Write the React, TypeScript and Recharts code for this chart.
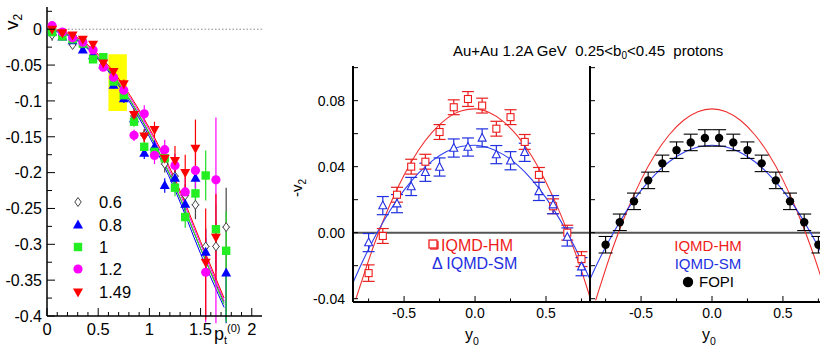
import React from 'react';
import { ComposedChart, Scatter, Line, XAxis, YAxis, ErrorBar, ReferenceArea, ReferenceLine } from 'recharts';

const FONT = "'Liberation Sans', Arial, Helvetica, sans-serif";

// ---------------- Left panel: v2 vs pt(0) ----------------
const s06 = [
  { x: 0.05, y: -0.008, e: 0.008, ex: 0.04 }, { x: 0.15, y: -0.009, e: 0.004, ex: 0.04 }, { x: 0.25, y: -0.022, e: 0.004, ex: 0.04 },
  { x: 0.35, y: -0.024, e: 0.004, ex: 0.04 }, { x: 0.45, y: -0.036, e: 0.005, ex: 0.04 }, { x: 0.55, y: -0.049, e: 0.005, ex: 0.04 },
  { x: 0.65, y: -0.069, e: 0.006, ex: 0.04 }, { x: 0.75, y: -0.088, e: 0.007, ex: 0.04 }, { x: 0.85, y: -0.121, e: 0.008, ex: 0.04 },
  { x: 0.95, y: -0.148, e: 0.009, ex: 0.04 }, { x: 1.05, y: -0.166, e: 0.01, ex: 0.04 }, { x: 1.15, y: -0.188, e: 0.012, ex: 0.04 },
  { x: 1.25, y: -0.205, e: 0.014, ex: 0.04 }, { x: 1.35, y: -0.232, e: 0.016, ex: 0.04 }, { x: 1.45, y: -0.245, e: 0.02, ex: 0.04 },
  { x: 1.55, y: -0.303, e: 0.025, ex: 0.04 }, { x: 1.65, y: -0.303, e: 0.035, ex: 0.04 }, { x: 1.75, y: -0.276, e: [0.13, 0.055], ex: 0.04 },
];
const s08 = [
  { x: 0.05, y: -0.004, e: 0.003 }, { x: 0.15, y: -0.011, e: 0.003 }, { x: 0.25, y: -0.016, e: 0.003 },
  { x: 0.35, y: -0.029, e: 0.004 }, { x: 0.45, y: -0.037, e: 0.004 }, { x: 0.55, y: -0.05, e: 0.005 },
  { x: 0.65, y: -0.078, e: 0.005 }, { x: 0.75, y: -0.097, e: 0.006 }, { x: 0.85, y: -0.125, e: 0.007 },
  { x: 0.95, y: -0.173, e: 0.008 }, { x: 1.05, y: -0.164, e: 0.009 }, { x: 1.15, y: -0.218, e: 0.01 },
  { x: 1.25, y: -0.208, e: 0.012 }, { x: 1.35, y: -0.244, e: 0.014 }, { x: 1.45, y: -0.208, e: 0.016 },
  { x: 1.55, y: -0.311, e: 0.02 }, { x: 1.75, y: -0.34, e: [0.07, 0.0] },
];
const s10 = [
  { x: 0.05, y: -0.004, e: 0.003 }, { x: 0.15, y: -0.01, e: 0.003 }, { x: 0.25, y: -0.014, e: 0.003 },
  { x: 0.35, y: -0.02, e: 0.004 }, { x: 0.45, y: -0.042, e: 0.004 }, { x: 0.55, y: -0.039, e: 0.005 },
  { x: 0.65, y: -0.073, e: 0.005 }, { x: 0.75, y: -0.092, e: 0.006 }, { x: 0.85, y: -0.129, e: 0.007 },
  { x: 0.95, y: -0.164, e: 0.008 }, { x: 1.05, y: -0.171, e: 0.009 }, { x: 1.15, y: -0.18, e: 0.01 },
  { x: 1.25, y: -0.221, e: 0.012 }, { x: 1.35, y: -0.262, e: 0.015 }, { x: 1.45, y: -0.229, e: 0.018 },
  { x: 1.55, y: -0.204, e: 0.035 }, { x: 1.65, y: -0.279, e: 0.035 }, { x: 1.75, y: -0.309, e: [0.1, 0.055] },
];
const s12 = [
  { x: 0.05, y: 0.005, e: 0.006 }, { x: 0.15, y: -0.004, e: 0.004 }, { x: 0.25, y: -0.012, e: 0.004 },
  { x: 0.35, y: -0.018, e: 0.004 }, { x: 0.45, y: -0.029, e: 0.005 }, { x: 0.55, y: -0.053, e: 0.005 },
  { x: 0.65, y: -0.067, e: 0.006 }, { x: 0.75, y: -0.085, e: 0.007 }, { x: 0.85, y: -0.148, e: 0.008 },
  { x: 0.95, y: -0.118, e: 0.012 }, { x: 1.05, y: -0.176, e: 0.012 }, { x: 1.15, y: -0.168, e: 0.014 },
  { x: 1.25, y: -0.19, e: 0.016 }, { x: 1.35, y: -0.227, e: 0.02 }, { x: 1.45, y: -0.197, e: 0.025 },
  { x: 1.55, y: -0.339, e: [0.07, 0.06] }, { x: 1.65, y: -0.21, e: [0.2, 0.087] },
];
const s149 = [
  { x: 0.05, y: 0.0, e: 0.004 }, { x: 0.15, y: -0.005, e: 0.003 }, { x: 0.25, y: -0.008, e: 0.003 },
  { x: 0.35, y: -0.014, e: 0.004 }, { x: 0.45, y: -0.021, e: 0.004 }, { x: 0.55, y: -0.047, e: 0.005 },
  { x: 0.65, y: -0.059, e: 0.005 }, { x: 0.75, y: -0.076, e: 0.006 }, { x: 0.85, y: -0.119, e: 0.008 },
  { x: 0.95, y: -0.149, e: 0.009 }, { x: 1.05, y: -0.14, e: 0.011 }, { x: 1.15, y: -0.18, e: 0.013 },
  { x: 1.25, y: -0.183, e: 0.02 }, { x: 1.35, y: -0.2, e: 0.025 }, { x: 1.45, y: -0.166, e: 0.04 },
  { x: 1.55, y: -0.325, e: [0.08, 0.075] }, { x: 1.65, y: -0.29, e: 0.06 },
];

const fitX = [0.05, 0.25, 0.5, 0.75, 1.0, 1.25, 1.5, 1.73];
const fit06 = [-0.001, -0.011, -0.04, -0.086, -0.146, -0.219, -0.306, -0.381];
const fit08 = [-0.002, -0.012, -0.042, -0.089, -0.15, -0.224, -0.313, -0.388];
const fit10 = [-0.001, -0.01, -0.039, -0.085, -0.145, -0.218, -0.306, -0.384];
const fit12 = [-0.001, -0.009, -0.037, -0.082, -0.141, -0.213, -0.3, -0.379];
const fit149 = [0.0, -0.008, -0.035, -0.079, -0.138, -0.209, -0.296, -0.375];

const leftXTicks = [0, 0.1, 0.2, 0.3, 0.4, 0.5, 0.6, 0.7, 0.8, 0.9, 1, 1.1, 1.2, 1.3, 1.4, 1.5, 1.6, 1.7, 1.8, 1.9, 2];
const leftXMajors = [0, 0.5, 1, 1.5, 2];
const leftYTicks = [-0.4, -0.375, -0.35, -0.325, -0.3, -0.275, -0.25, -0.225, -0.2, -0.175, -0.15, -0.125, -0.1, -0.075, -0.05, -0.025, 0, 0.025];
const leftYMajors = [-0.4, -0.35, -0.3, -0.25, -0.2, -0.15, -0.1, -0.05, 0];

// ---------------- Middle panel: IQMD ----------------
const hmData = [
  { x: -0.75, y: -0.0245, e: 0.005 }, { x: -0.65, y: -0.002, e: 0.0045 }, { x: -0.55, y: 0.023, e: 0.0045 },
  { x: -0.45, y: 0.040, e: 0.0045 }, { x: -0.35, y: 0.043, e: 0.0045 }, { x: -0.25, y: 0.061, e: 0.0045 },
  { x: -0.15, y: 0.076, e: 0.0045 }, { x: -0.05, y: 0.081, e: 0.0045 }, { x: 0.05, y: 0.077, e: 0.0045 },
  { x: 0.15, y: 0.063, e: 0.0045 }, { x: 0.25, y: 0.070, e: 0.0045 }, { x: 0.35, y: 0.055, e: 0.0045 },
  { x: 0.45, y: 0.035, e: 0.0045 }, { x: 0.55, y: 0.016, e: 0.0045 }, { x: 0.65, y: 0.0, e: 0.0045 },
  { x: 0.75, y: -0.016, e: 0.0045 },
];
const smData = [
  { x: -0.75, y: -0.006, e: 0.0055 }, { x: -0.65, y: 0.0164, e: 0.0055 }, { x: -0.55, y: 0.0176, e: 0.0055 },
  { x: -0.45, y: 0.028, e: 0.0055 }, { x: -0.35, y: 0.0366, e: 0.0055 }, { x: -0.25, y: 0.0398, e: 0.0055 },
  { x: -0.15, y: 0.0513, e: 0.0055 }, { x: -0.05, y: 0.0519, e: 0.0055 }, { x: 0.05, y: 0.0574, e: 0.0055 },
  { x: 0.15, y: 0.0473, e: 0.0055 }, { x: 0.25, y: 0.0436, e: 0.0055 }, { x: 0.35, y: 0.0487, e: 0.0055 },
  { x: 0.45, y: 0.025, e: 0.0055 }, { x: 0.55, y: 0.017, e: 0.0055 }, { x: 0.65, y: -0.0026, e: 0.0055 },
  { x: 0.75, y: -0.0206, e: 0.0055 },
];
const midHmX = [-0.84, -0.7, -0.6, -0.5, -0.4, -0.3, -0.2, -0.1, 0, 0.1, 0.2, 0.3, 0.4, 0.5, 0.6, 0.7, 0.8, 0.81];
const midHmY = [-0.0403, -0.0046, 0.0169, 0.035, 0.0498, 0.0611, 0.0691, 0.0737, 0.075, 0.0728, 0.0673, 0.0585, 0.0463, 0.0306, 0.0117, -0.0107, -0.0364, -0.0392];
const midSmX = [-0.86, -0.8, -0.7, -0.6, -0.5, -0.4, -0.3, -0.2, -0.1, 0, 0.1, 0.2, 0.3, 0.4, 0.5, 0.6, 0.7, 0.81];
const midSmY = [-0.0303, -0.0188, -0.0016, 0.0133, 0.0258, 0.0359, 0.0437, 0.0492, 0.0522, 0.053, 0.0513, 0.0473, 0.0409, 0.0322, 0.0211, 0.0076, -0.0082, -0.0283];

// ---------------- Right panel: FOPI ----------------
const fopiData = [
  { x: -0.75, y: -0.0073, e: 0.005 }, { x: -0.65, y: 0.0063, e: 0.005 }, { x: -0.55, y: 0.019, e: 0.005 },
  { x: -0.45, y: 0.0317, e: 0.005 }, { x: -0.35, y: 0.042, e: 0.005 }, { x: -0.25, y: 0.05, e: 0.005 },
  { x: -0.15, y: 0.0547, e: 0.005 }, { x: -0.05, y: 0.0574, e: 0.005 }, { x: 0.05, y: 0.0574, e: 0.005 },
  { x: 0.15, y: 0.0547, e: 0.005 }, { x: 0.25, y: 0.05, e: 0.005 }, { x: 0.35, y: 0.042, e: 0.005 },
  { x: 0.45, y: 0.0317, e: 0.005 }, { x: 0.55, y: 0.019, e: 0.005 }, { x: 0.65, y: 0.0063, e: 0.005 },
  { x: 0.75, y: -0.0073, e: 0.005 },
];
const rHmX = [-0.82, -0.7, -0.6, -0.5, -0.4, -0.3, -0.2, -0.1, 0, 0.1, 0.2, 0.3, 0.4, 0.5, 0.6, 0.7, 0.8];
const rHmY = [-0.041, -0.0094, 0.013, 0.032, 0.0475, 0.0595, 0.0681, 0.0733, 0.075, 0.0733, 0.0681, 0.0595, 0.0475, 0.032, 0.013, -0.0094, -0.0352];
const rSmX = [-0.86, -0.8, -0.7, -0.6, -0.5, -0.4, -0.3, -0.2, -0.1, 0, 0.1, 0.2, 0.3, 0.4, 0.5, 0.6, 0.7, 0.8, 0.86];
const rSmY = [-0.0282, -0.0172, -0.0008, 0.0135, 0.0256, 0.0354, 0.0431, 0.0486, 0.0519, 0.053, 0.0519, 0.0486, 0.0431, 0.0354, 0.0256, 0.0135, -0.0008, -0.0172, -0.0282];

const midYTicks = [-0.04, -0.02, 0, 0.02, 0.04, 0.06, 0.08, 0.1];
const midYMajors = [-0.04, 0, 0.04, 0.08];
const midXTicks = [-0.75, -0.5, -0.25, 0, 0.25, 0.5, 0.75];
const midXMajors = [-0.5, 0, 0.5];

const toPts = (xs: number[], ys: number[]) => xs.map((x, i) => ({ x, y: ys[i] }));

// ---------------- ticks ----------------
type TickCfg = {
  side: 'left' | 'right' | 'top' | 'bottom';
  majors: number[];
  majorLen: number;
  minorLen: number;
  label?: (v: number) => string;
  fontSize?: number;
  offset?: number;
  allSame?: boolean;
};
function makeTick(cfg: TickCfg) {
  return (props: any) => {
    const x = Number(props.x);
    const y = Number(props.y);
    const v = Number(props.payload?.value);
    const major = cfg.majors.some((m) => Math.abs(m - v) < 1e-6);
    const len = major || cfg.allSame ? cfg.majorLen : cfg.minorLen;
    let x2 = x;
    let y2 = y;
    if (cfg.side === 'left') x2 = x + len;
    if (cfg.side === 'right') x2 = x - len;
    if (cfg.side === 'top') y2 = y + len;
    if (cfg.side === 'bottom') y2 = y - len;
    const fs = cfg.fontSize || 14;
    const off = cfg.offset || 6;
    let lab = null;
    if (major && cfg.label) {
      if (cfg.side === 'left') {
        lab = (
          <text x={x - off} y={y} dy="0.36em" textAnchor="end" fontSize={fs} fontFamily={FONT} fill="#000">
            {cfg.label(v)}
          </text>
        );
      } else if (cfg.side === 'bottom') {
        lab = (
          <text x={x} y={y + off} textAnchor="middle" fontSize={fs} fontFamily={FONT} fill="#000">
            {cfg.label(v)}
          </text>
        );
      }
    }
    return (
      <g>
        <line x1={x} y1={y} x2={x2} y2={y2} stroke="#000" strokeWidth={1} />
        {lab}
      </g>
    );
  };
}

// ---------------- shapes ----------------
const DiamondShape = (p: any) => {
  const { cx, cy } = p;
  return <path d={`M${cx} ${cy - 4.5}L${cx + 3.2} ${cy}L${cx} ${cy + 4.5}L${cx - 3.2} ${cy}Z`} fill="#fff" stroke="#444" strokeWidth={1} />;
};
const TriUpShape = (p: any) => {
  const { cx, cy } = p;
  return <path d={`M${cx} ${cy - 5.5}L${cx + 5} ${cy + 3.5}L${cx - 5} ${cy + 3.5}Z`} fill="#0000ff" />;
};
const TriDownShape = (p: any) => {
  const { cx, cy } = p;
  return <path d={`M${cx} ${cy + 5.5}L${cx + 5} ${cy - 3.5}L${cx - 5} ${cy - 3.5}Z`} fill="#ff0000" />;
};
const SquareShape = (p: any) => {
  const { cx, cy } = p;
  return <rect x={cx - 4.2} y={cy - 4.2} width={8.4} height={8.4} fill="#22ee22" />;
};
const CircleShape = (p: any) => {
  const { cx, cy } = p;
  return <circle cx={cx} cy={cy} r={4.6} fill="#ff00ff" />;
};
const OpenSquare = (p: any) => {
  const { cx, cy } = p;
  return <rect x={cx - 3.5} y={cy - 3.5} width={7} height={7} fill="#fff" stroke="#ee1c1c" strokeWidth={1.1} />;
};
const OpenTri = (p: any) => {
  const { cx, cy } = p;
  return <path d={`M${cx} ${cy - 4.5}L${cx + 4} ${cy + 3.2}L${cx - 4} ${cy + 3.2}Z`} fill="#fff" stroke="#2430e0" strokeWidth={1.1} />;
};
const FilledDot = (p: any) => {
  const { cx, cy } = p;
  return <circle cx={cx} cy={cy} r={4.2} fill="#000" />;
};

const leftSeries = [
  { name: '0.6', data: s06, fit: fit06, color: '#444444', shape: DiamondShape },
  { name: '0.8', data: s08, fit: fit08, color: '#0000ff', shape: TriUpShape },
  { name: '1', data: s10, fit: fit10, color: '#22dd22', shape: SquareShape },
  { name: '1.2', data: s12, fit: fit12, color: '#ff00ff', shape: CircleShape },
  { name: '1.49', data: s149, fit: fit149, color: '#ff0000', shape: TriDownShape },
];

const axisStroke = { stroke: '#000', strokeWidth: 1.5 };
const axisStroke2 = { stroke: '#000', strokeWidth: 2 };

function LeftPanel() {
  const common = { tickSize: 0, tickMargin: 0, tickLine: false, interval: 0 as const, allowDataOverflow: true };
  return (
    <ComposedChart width={280} height={350} margin={{ top: 7, right: 18, bottom: 4, left: 7 }}>
      <XAxis xAxisId="b" type="number" dataKey="x" domain={[0, 2.1]} ticks={leftXTicks} height={30}
        axisLine={axisStroke} {...common}
        tick={makeTick({ side: 'bottom', majors: leftXMajors, majorLen: 8, minorLen: 4, label: (v) => String(v), fontSize: 16.5, offset: 19 })} />
      <XAxis xAxisId="t" orientation="top" type="number" dataKey="x" domain={[0, 2.1]} ticks={leftXTicks} height={0}
        axisLine={axisStroke} {...common}
        tick={makeTick({ side: 'top', majors: leftXMajors, majorLen: 8, minorLen: 4 })} />
      <YAxis yAxisId="l" type="number" dataKey="y" domain={[-0.4, 0.031]} ticks={leftYTicks} width={40}
        axisLine={axisStroke} {...common}
        tick={makeTick({ side: 'left', majors: leftYMajors, majorLen: 8, minorLen: 5, label: (v) => String(Number(v.toFixed(3))), fontSize: 16, offset: 5 })} />
      <YAxis yAxisId="r" orientation="right" type="number" dataKey="y" domain={[-0.4, 0.031]} ticks={leftYTicks} width={0}
        axisLine={axisStroke} {...common}
        tick={makeTick({ side: 'right', majors: leftYMajors, majorLen: 8, minorLen: 5 })} />
      <ReferenceArea xAxisId="b" yAxisId="l" x1={0.6} x2={0.78} y1={-0.114} y2={-0.035} fill="#ffff00" fillOpacity={1} stroke="none" />
      <ReferenceLine xAxisId="b" yAxisId="l" y={0} stroke="#888" strokeDasharray="1.5 2" strokeWidth={1} />
      {leftSeries.map((s) => (
        <Line key={'f' + s.name} xAxisId="b" yAxisId="l" data={toPts(fitX, s.fit)} dataKey="y" type="monotone"
          stroke={s.color} strokeWidth={1} dot={false} activeDot={false} isAnimationActive={false} />
      ))}
      {leftSeries.map((s) => (
        <Scatter key={'s' + s.name} xAxisId="b" yAxisId="l" data={s.data} dataKey="y" shape={s.shape} isAnimationActive={false}>
          <ErrorBar dataKey="e" direction="y" width={0} stroke={s.color} strokeWidth={1.2} />
          {s.name === '0.6' ? <ErrorBar dataKey="ex" direction="x" width={0} stroke="#666" strokeWidth={0.8} /> : null}
        </Scatter>
      ))}
    </ComposedChart>
  );
}

function framedAxes(showYLabels: boolean, xDomain: number[]) {
  const common = { tickSize: 0, tickMargin: 0, tickLine: false, interval: 0 as const, allowDataOverflow: true };
  return [
    <XAxis key="xb" xAxisId="b" type="number" dataKey="x" domain={xDomain} ticks={midXTicks} height={40}
      axisLine={axisStroke2} {...common}
      tick={makeTick({ side: 'bottom', majors: midXMajors, majorLen: 6, minorLen: 3.5, label: (v) => v.toFixed(1), fontSize: 14, offset: 16 })} />,
    <XAxis key="xt" xAxisId="t" orientation="top" type="number" dataKey="x" domain={xDomain} ticks={midXTicks} height={0}
      axisLine={axisStroke2} {...common}
      tick={makeTick({ side: 'top', majors: midXMajors, majorLen: 6, minorLen: 3.5 })} />,
    <YAxis key="yl" yAxisId="l" type="number" dataKey="y" domain={[-0.042, 0.101]} ticks={midYTicks} width={showYLabels ? 60 : 20}
      axisLine={axisStroke2} {...common}
      tick={makeTick({ side: 'left', majors: midYMajors, majorLen: 5, minorLen: 5, label: showYLabels ? (v) => v.toFixed(2) : undefined, fontSize: 14, offset: 8 })} />,
    <YAxis key="yr" yAxisId="r" orientation="right" type="number" dataKey="y" domain={[-0.042, 0.101]} ticks={midYTicks} width={0}
      axisLine={axisStroke2} {...common}
      tick={makeTick({ side: 'right', majors: midYMajors, majorLen: 5, minorLen: 5 })} />,
    <ReferenceLine key="zero" xAxisId="b" yAxisId="l" y={0} stroke="#555" strokeWidth={2} />,
  ];
}

function MiddlePanel() {
  return (
    <ComposedChart width={312} height={350} margin={{ top: 66, right: 2, bottom: 8, left: 13 }}>
      {framedAxes(true, [-0.86, 0.81])}
      <Line xAxisId="b" yAxisId="l" data={toPts(midHmX, midHmY)} dataKey="y" type="monotone" stroke="#f03030" strokeWidth={1.1}
        dot={false} activeDot={false} isAnimationActive={false} />
      <Line xAxisId="b" yAxisId="l" data={toPts(midSmX, midSmY)} dataKey="y" type="monotone" stroke="#3040f0" strokeWidth={1.1}
        dot={false} activeDot={false} isAnimationActive={false} />
      <Scatter xAxisId="b" yAxisId="l" data={hmData} dataKey="y" shape={OpenSquare} isAnimationActive={false}>
        <ErrorBar dataKey="e" direction="y" width={6} stroke="#e82020" strokeWidth={1.2} />
      </Scatter>
      <Scatter xAxisId="b" yAxisId="l" data={smData} dataKey="y" shape={OpenTri} isAnimationActive={false}>
        <ErrorBar dataKey="e" direction="y" width={6} stroke="#2030e0" strokeWidth={1.2} />
      </Scatter>
    </ComposedChart>
  );
}

function RightPanel() {
  return (
    <ComposedChart width={300} height={350} margin={{ top: 66, right: 26, bottom: 8, left: 10 }}>
      {framedAxes(false, [-0.86, 0.86])}
      <Line xAxisId="b" yAxisId="l" data={toPts(rHmX, rHmY)} dataKey="y" type="monotone" stroke="#f03030" strokeWidth={1.1}
        dot={false} activeDot={false} isAnimationActive={false} />
      <Line xAxisId="b" yAxisId="l" data={toPts(rSmX, rSmY)} dataKey="y" type="monotone" stroke="#3040f0" strokeWidth={1.1}
        dot={false} activeDot={false} isAnimationActive={false} />
      <Scatter xAxisId="b" yAxisId="l" data={fopiData} dataKey="y" shape={FilledDot} isAnimationActive={false}>
        <ErrorBar dataKey="e" direction="y" width={7} stroke="#000" strokeWidth={1.1} />
      </Scatter>
    </ComposedChart>
  );
}

function Overlay() {
  const t = { fontFamily: FONT, fill: '#000' };
  return (
    <svg width={820} height={350} style={{ position: 'absolute', left: 0, top: 0, pointerEvents: 'none' }}>
      {/* left panel labels */}
      <text transform="translate(18,30) rotate(-90)" fontSize={19} {...t}>
        v<tspan fontSize={12} dy={4}>2</tspan>
      </text>
      <text x={214} y={340} fontSize={18} {...t}>
        p<tspan fontSize={11} dy={4}>t</tspan><tspan fontSize={11} dy={-12}>(0)</tspan>
      </text>
      {/* left legend */}
      <DiamondShape cx={78} cy={202} />
      <TriUpShape cx={78} cy={225} />
      <SquareShape cx={78} cy={247} />
      <CircleShape cx={78} cy={269} />
      <TriDownShape cx={78} cy={292} />
      <text x={99} y={208} fontSize={16.5} {...t}>0.6</text>
      <text x={99} y={231} fontSize={16.5} {...t}>0.8</text>
      <text x={99} y={253} fontSize={16.5} {...t}>1</text>
      <text x={99} y={275} fontSize={16.5} {...t}>1.2</text>
      <text x={99} y={298} fontSize={16.5} {...t}>1.49</text>
      {/* title */}
      <text x={453} y={56} fontSize={15} style={{ whiteSpace: 'pre' }} {...t}>
        {'Au+Au 1.2A GeV  0.25<b'}<tspan fontSize={10} dy={3}>0</tspan><tspan dy={-3}>{'<0.45  protons'}</tspan>
      </text>
      {/* middle labels */}
      <text transform="translate(302,197) rotate(-90)" fontSize={15} {...t}>
        -v<tspan fontSize={10} dy={4}>2</tspan>
      </text>
      <text x={465} y={340} fontSize={16} {...t}>
        y<tspan fontSize={10.5} dy={5}>0</tspan>
      </text>
      <text x={702} y={340} fontSize={16} {...t}>
        y<tspan fontSize={10.5} dy={5}>0</tspan>
      </text>
      {/* middle legend */}
      <rect x={429} y={240} width={8} height={8} fill="#fff" stroke="#ee1c1c" strokeWidth={1.3} />
      <line x1={438} y1={241} x2={438} y2={249} stroke="#ee1c1c" strokeWidth={1.3} />
      <line x1={430} y1={249} x2={438} y2={249} stroke="#ee1c1c" strokeWidth={1.3} />
      <text x={441} y={251} fontSize={16} fontFamily={FONT} fill="#ee1c1c">IQMD-HM</text>
      <text x={432} y={269} fontSize={16} fontFamily={FONT} fill="#2430e0">Δ IQMD-SM</text>
      {/* right legend */}
      <text x={708} y={251} fontSize={15} textAnchor="middle" fontFamily={FONT} fill="#ee1c1c">IQMD-HM</text>
      <text x={708} y={269} fontSize={15} textAnchor="middle" fontFamily={FONT} fill="#2430e0">IQMD-SM</text>
      <circle cx={688} cy={282} r={5.2} fill="#000" />
      <text x={699} y={287} fontSize={15} {...t}>FOPI</text>
    </svg>
  );
}

export default function App() {
  return (
    <div style={{ position: 'absolute', left: 0, top: 0, width: 820, height: 350, overflow: 'hidden', background: '#fff', fontFamily: FONT }}>
      <div style={{ position: 'absolute', left: 0, top: 0 }}>
        <LeftPanel />
      </div>
      <div style={{ position: 'absolute', left: 280, top: 0 }}>
        <MiddlePanel />
      </div>
      <div style={{ position: 'absolute', left: 560, top: 0 }}>
        <RightPanel />
      </div>
      <Overlay />
    </div>
  );
}
